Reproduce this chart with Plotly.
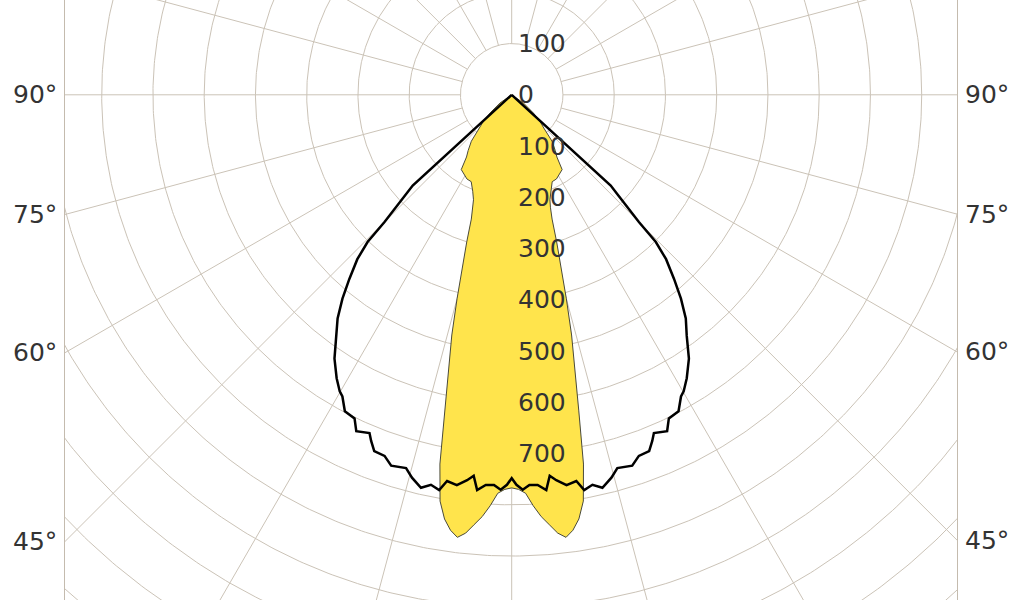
import numpy as np
import plotly.graph_objects as go

# ---------------- data (luminous intensity, cd/klm, vs gamma angle in degrees) -------------
# C0/C180 plane (yellow, narrow beam) - symmetric halves
gamma_c0 = [0, 1, 2, 3, 4, 5, 6, 7, 8, 9, 10, 11, 12, 13, 14, 15, 16, 17, 18, 19, 20,
            22, 25, 28, 31, 34, 36, 38, 41, 44, 47, 50, 55, 60]
intensity_c0 = [767, 770, 778, 803, 825, 842, 860, 870, 858, 838, 805, 734, 629, 542, 483, 412,
                350, 300, 255, 232, 218, 203, 187, 186, 181, 176, 150, 138, 120, 90, 75, 55, 28, 0]

# C90/C270 plane (black line, wide beam) - symmetric halves
gamma_c90 = [0, 0.7, 1.6, 2.6, 3.8, 5.0, 5.7, 6.6, 8.0, 9.5, 10.4, 11.7, 13.0, 14.6, 15.8,
             18.0, 19.4, 21.1, 22.1, 22.8, 24.8, 25.9, 27.8, 29.3, 30.1, 31.7, 33.9, 36.0,
             37.9, 39.7, 41.4, 43.2, 44.4, 45.0, 46.6, 47.5, 48]
intensity_c90 = [748, 761, 771, 762, 763, 774, 747, 757, 769, 764, 784, 777, 787, 772, 757,
                 761, 747, 745, 729, 716, 723, 702, 698, 675, 669, 650, 620, 581,
                 553, 517, 479, 440, 402, 351, 288, 262, 0]

grid_radii = [100, 200, 300, 400, 500, 600, 700, 800, 900, 1000, 1100, 1200, 1300, 1400, 1500]
spoke_angles = list(range(0, 360, 15))
radial_labels_down = [0, 100, 200, 300, 400, 500, 600, 700]
radial_labels_up = [100]
angle_labels = [90, 75, 60, 45]

# ---------------- geometry ----------------
W, H = 1024, 600
CX, CY = 511.7, 94.8      # pixel position of the pole
S = 0.5125                 # pixels per cd/klm
L_EDGE, R_EDGE = 65, 957   # frame edges in pixels
x_min = (L_EDGE - CX) / S
x_max = (R_EDGE - CX) / S
y_max = CY / S
y_min = -(H - CY) / S

GRID = "#cbc3b7"
TEXT = "#333333"
FONT = "DejaVu Sans"


def to_xy(g, r, side):
    g = np.radians(np.asarray(g, dtype=float))
    r = np.asarray(r, dtype=float)
    return side * r * np.sin(g), -r * np.cos(g)


def closed_curve(gam, inten):
    g = np.asarray(gam, dtype=float)
    r = np.asarray(inten, dtype=float)
    xr, yr = to_xy(g[::-1], r[::-1], 1)
    xl, yl = to_xy(g, r, -1)
    return np.concatenate([xr, xl]), np.concatenate([yr, yl])


fig = go.Figure()

# grid circles
t = np.linspace(0, 2 * np.pi, 721)
cx, cy = [], []
for rr in grid_radii:
    cx += list(rr * np.cos(t)) + [None]
    cy += list(rr * np.sin(t)) + [None]
fig.add_trace(go.Scatter(x=cx, y=cy, mode="lines", line=dict(color=GRID, width=1),
                         hoverinfo="skip", showlegend=False))

# grid spokes (start at the first circle)
sx, sy = [], []
r0, r1 = grid_radii[0], grid_radii[-1] + 200
for a in spoke_angles:
    ar = np.radians(a)
    sx += [r0 * np.sin(ar), r1 * np.sin(ar), None]
    sy += [-r0 * np.cos(ar), -r1 * np.cos(ar), None]
fig.add_trace(go.Scatter(x=sx, y=sy, mode="lines", line=dict(color=GRID, width=1),
                         hoverinfo="skip", showlegend=False))

# C0/C180 filled curve
x0, y0 = closed_curve(gamma_c0, intensity_c0)
fig.add_trace(go.Scatter(x=x0, y=y0, mode="lines", fill="toself", fillcolor="#ffe44c",
                         line=dict(color="#4a4a3a", width=1), hoverinfo="skip",
                         showlegend=False))

# C90/C270 curve
x9, y9 = closed_curve(gamma_c90, intensity_c90)
fig.add_trace(go.Scatter(x=x9, y=y9, mode="lines", line=dict(color="#000000", width=2.5),
                         hoverinfo="skip", showlegend=False))

annotations = []
for v in radial_labels_down:
    annotations.append(dict(x=0, y=-v, xref="x", yref="y", text=str(v), showarrow=False,
                            xanchor="left", yanchor="middle", xshift=4,
                            font=dict(family=FONT, size=25, color=TEXT)))
for v in radial_labels_up:
    annotations.append(dict(x=0, y=v, xref="x", yref="y", text=str(v), showarrow=False,
                            xanchor="left", yanchor="middle", xshift=4,
                            font=dict(family=FONT, size=25, color=TEXT)))
for a in angle_labels:
    ar = np.radians(a)
    yl = -abs(x_min) / np.tan(ar) if a < 90 else 0.0
    yr = -abs(x_max) / np.tan(ar) if a < 90 else 0.0
    annotations.append(dict(x=x_min, y=yl, xref="x", yref="y", text=f"{a}°", showarrow=False,
                            xanchor="right", yanchor="middle", xshift=-6,
                            font=dict(family=FONT, size=25, color=TEXT)))
    annotations.append(dict(x=x_max, y=yr, xref="x", yref="y", text=f"{a}°", showarrow=False,
                            xanchor="left", yanchor="middle", xshift=6,
                            font=dict(family=FONT, size=25, color=TEXT)))

fig.update_layout(
    width=W, height=H,
    margin=dict(l=L_EDGE, r=W - R_EDGE, t=0, b=0, pad=0),
    paper_bgcolor="white", plot_bgcolor="white",
    xaxis=dict(range=[x_min, x_max], visible=False, fixedrange=True),
    yaxis=dict(range=[y_min, y_max], showgrid=False, zeroline=False, showticklabels=False,
               ticks="", showline=True, mirror=True, linecolor="#c4bbae", linewidth=1,
               fixedrange=True),
    annotations=annotations,
    showlegend=False,
)

fig.write_html("out.html", config={"displayModeBar": False},
               post_script="document.body.style.margin='0';")
